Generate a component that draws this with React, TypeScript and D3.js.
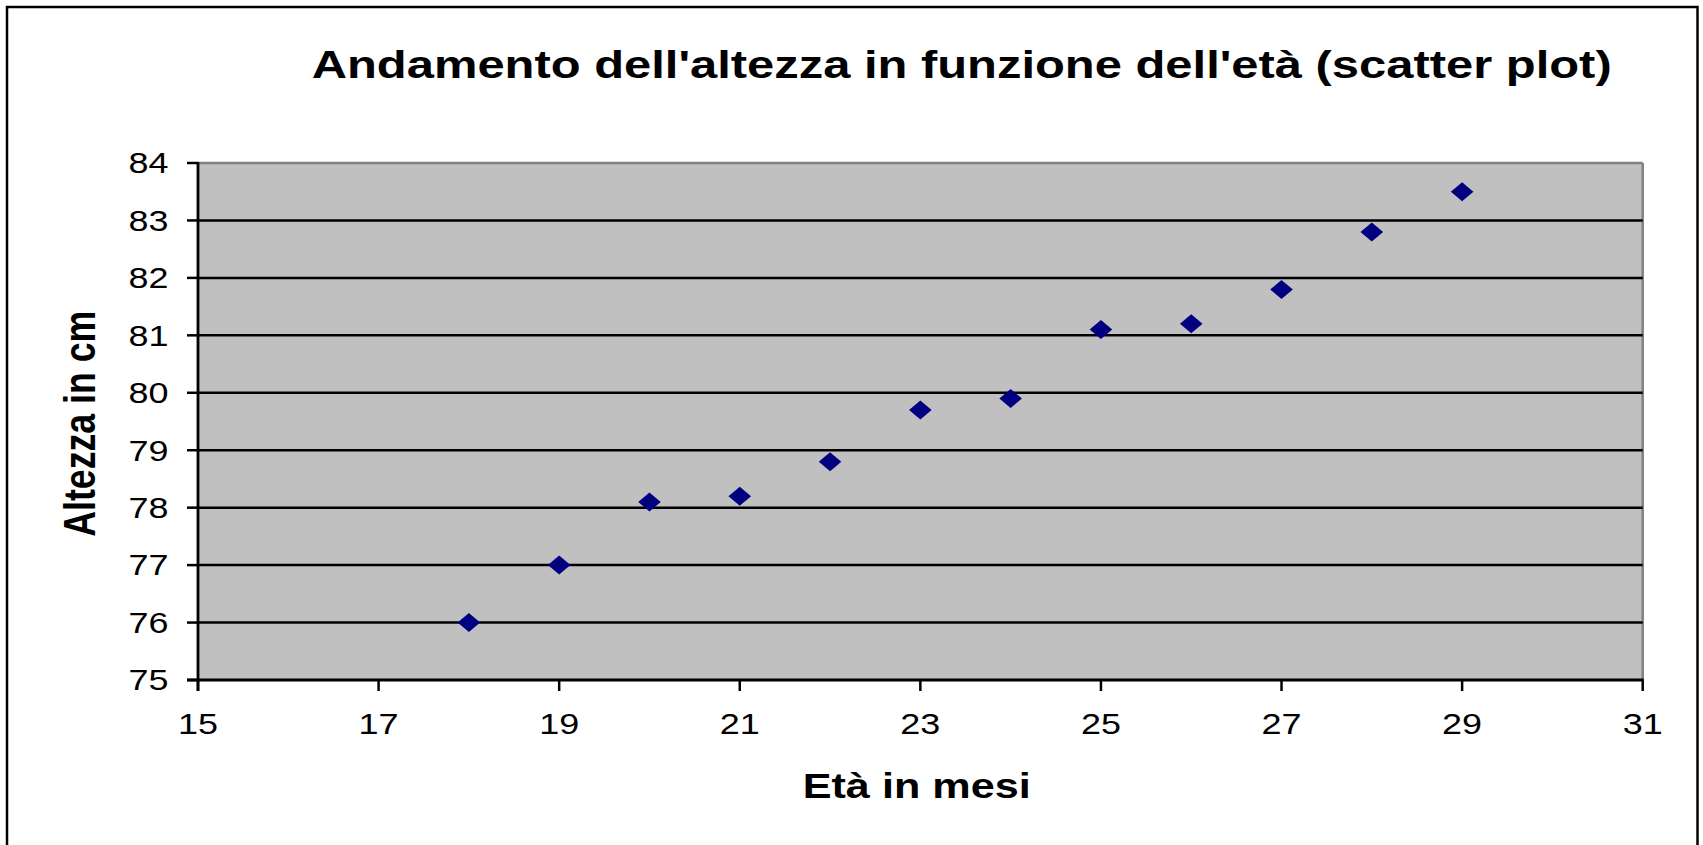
import React from "react";
import * as d3 from "d3";

const ages: number[] = [18, 19, 20, 21, 22, 23, 24, 25, 26, 27, 28, 29];
const heights: number[] = [76.0, 77.0, 78.1, 78.2, 78.8, 79.7, 79.9, 81.1, 81.2, 81.8, 82.8, 83.5];
const xTicks: number[] = [15, 17, 19, 21, 23, 25, 27, 29, 31];
const yTicks: number[] = [75, 76, 77, 78, 79, 80, 81, 82, 83, 84];
const title = "Andamento dell'altezza in funzione dell'età (scatter plot)";
const xTitle = "Età in mesi";
const yTitle = "Altezza in cm";

const W = 1703;
const H = 845;
const left = 198;
const right = 1642.7;
const top = 163;
const bottom = 680;

export default function App() {
  const x = d3.scaleLinear().domain([15, 31]).range([left, right]);
  const y = d3.scaleLinear().domain([75, 84]).range([bottom, top]);
  const font = "'Liberation Sans', Arial, sans-serif";
  const diamond = (cx: number, cy: number) =>
    `M${cx},${cy - 9.5}L${cx + 11.3},${cy}L${cx},${cy + 9.5}L${cx - 11.3},${cy}Z`;

  return (
    <svg
      width={W}
      height={H}
      style={{ position: "absolute", left: 0, top: 0, display: "block", background: "#fff" }}
    >
      <rect x={7} y={7} width={1690.5} height={850} fill="#fff" stroke="#000" strokeWidth={2.5} />
      <text
        x={311.7}
        y={77.7}
        fontFamily={font}
        fontWeight="bold"
        fontSize={38.7}
        textLength={1300}
        lengthAdjust="spacingAndGlyphs"
        fill="#000"
      >
        {title}
      </text>

      {/* plot area */}
      <rect x={left} y={top} width={right - left} height={bottom - top} fill="#C0C0C0" />
      <line x1={left} x2={right} y1={top} y2={top} stroke="#808080" strokeWidth={2.5} />
      <line x1={right} x2={right} y1={top} y2={bottom} stroke="#808080" strokeWidth={2.5} />

      {yTicks
        .filter((t) => t > 75 && t < 84)
        .map((t) => (
          <line key={"g" + t} x1={left} x2={right} y1={y(t)} y2={y(t)} stroke="#000" strokeWidth={2.5} />
        ))}

      {/* axes */}
      <line x1={left} x2={left} y1={top - 1} y2={bottom + 11} stroke="#000" strokeWidth={2.8} />
      <line x1={left - 11} x2={right + 1} y1={bottom} y2={bottom} stroke="#000" strokeWidth={2.8} />

      {yTicks.map((t) => (
        <g key={"y" + t}>
          <line x1={left - 11} x2={left} y1={y(t)} y2={y(t)} stroke="#000" strokeWidth={2.5} />
          <text
            x={168.5}
            y={y(t) + 10.3}
            textAnchor="end"
            fontFamily={font}
            fontSize={29}
            textLength={40}
            lengthAdjust="spacingAndGlyphs"
            fill="#000"
          >
            {t}
          </text>
        </g>
      ))}

      {xTicks.map((t) => (
        <g key={"x" + t}>
          <line x1={x(t)} x2={x(t)} y1={bottom} y2={bottom + 11} stroke="#000" strokeWidth={2.5} />
          <text
            x={x(t)}
            y={734}
            textAnchor="middle"
            fontFamily={font}
            fontSize={29}
            textLength={40}
            lengthAdjust="spacingAndGlyphs"
            fill="#000"
          >
            {t}
          </text>
        </g>
      ))}

      {ages.map((a, i) => (
        <path key={"p" + a} d={diamond(x(a), y(heights[i]))} fill="#000080" />
      ))}

      <text
        x={802.7}
        y={797.7}
        fontFamily={font}
        fontWeight="bold"
        fontSize={35}
        textLength={228}
        lengthAdjust="spacingAndGlyphs"
        fill="#000"
      >
        {xTitle}
      </text>

      <text
        transform={`translate(95,${423.7}) rotate(-90)`}
        x={-113}
        y={0}
        fontFamily={font}
        fontWeight="bold"
        fontSize={44}
        textLength={226}
        lengthAdjust="spacingAndGlyphs"
        fill="#000"
      >
        {yTitle}
      </text>
    </svg>
  );
}
